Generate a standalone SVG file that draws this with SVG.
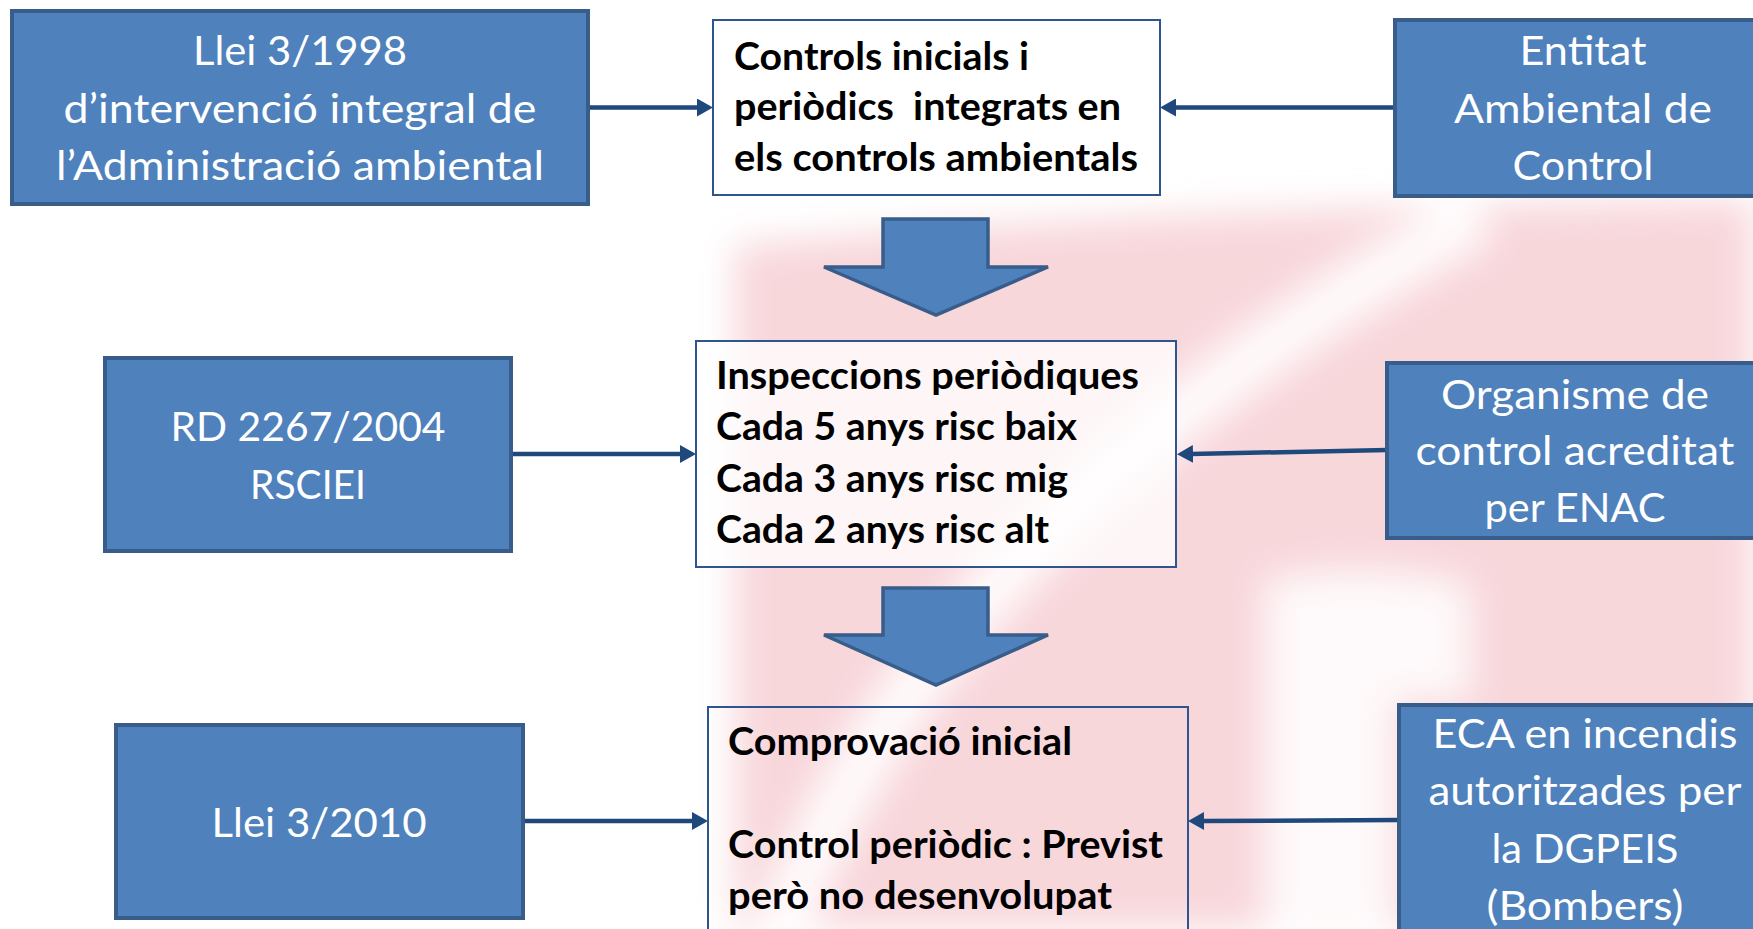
<svg xmlns="http://www.w3.org/2000/svg" width="1753" height="929" viewBox="0 0 1753 929">
<defs>
<style>
.bg{fill:#ffffff}
.blue{fill:#4f81bd;stroke:#385d8a;stroke-width:4}
.cbox{stroke:#2f5590;stroke-width:2}
.btxt{font-family:Lato,"Liberation Sans",sans-serif;font-size:41px;fill:#ffffff;text-anchor:middle}
.ctxt{font-family:Lato,"Liberation Sans",sans-serif;font-size:39px;font-weight:bold;fill:#000000}
.conn{stroke:#1f497d;stroke-width:4.5;fill:none;marker-end:url(#ah)}
.big{fill:#4f81bd;stroke:#385d8a;stroke-width:3.5;stroke-linejoin:miter}
</style>
<marker id="ah" viewBox="0 0 16 18" markerWidth="16" markerHeight="18" markerUnits="userSpaceOnUse" refX="2" refY="9" orient="auto">
<path d="M0,0 L16,9 L0,18 Z" fill="#1f497d"/>
</marker>
<filter id="soft" x="-10%" y="-10%" width="120%" height="120%">
<feGaussianBlur stdDeviation="18"/>
</filter>
</defs>
<rect class="bg" x="0" y="0" width="1753" height="929"/>
<g id="watermark" filter="url(#soft)">
<path d="M735,245 Q1200,205 1753,200 L1753,929 L735,929 Z" fill="#f8d7db"/>
<path d="M775,945 Q930,520 1480,215" stroke="#ffffff" stroke-width="55" fill="none" opacity="0.9"/>
<path d="M1265,580 Q1370,560 1470,585 L1470,700 L1395,700 L1395,935 L1265,935 Z" fill="#ffffff" opacity="0.85"/>
</g>
<g id="connectors">
<line class="conn" x1="588" y1="107.5" x2="699" y2="107.5"/>
<line class="conn" x1="1395" y1="107.5" x2="1174" y2="107.5"/>
<line class="conn" x1="511" y1="454" x2="682" y2="454"/>
<line class="conn" x1="1387" y1="450" x2="1191" y2="454"/>
<line class="conn" x1="523" y1="821" x2="694" y2="821"/>
<line class="conn" x1="1399" y1="820" x2="1202" y2="821"/>
<polygon id="flow1" class="big" points="883,219 988,219 988,267 1048,267 936,315 824,267 883,267"/>
<polygon id="flow2" class="big" points="883,588 988,588 988,635 1048,635 936,685 824,635 883,635"/>
</g>
<g id="n-llei1998">
<rect class="blue" x="12" y="11" width="576" height="193"/>
<text class="btxt" x="300" y="65" textLength="214" lengthAdjust="spacingAndGlyphs">Llei 3/1998</text>
<text class="btxt" x="300" y="123" textLength="473" lengthAdjust="spacingAndGlyphs">d’intervenció integral de</text>
<text class="btxt" x="300" y="180" textLength="488" lengthAdjust="spacingAndGlyphs">l’Administració ambiental</text>
</g>
<g id="n-controls">
<rect class="cbox" x="713" y="20" width="447" height="175" fill="#ffffff"/>
<text class="ctxt" x="734" y="70" textLength="295" lengthAdjust="spacingAndGlyphs">Controls inicials i</text>
<text class="ctxt" x="734" y="120" textLength="387" lengthAdjust="spacingAndGlyphs" xml:space="preserve">periòdics  integrats en</text>
<text class="ctxt" x="734" y="171" textLength="404" lengthAdjust="spacingAndGlyphs">els controls ambientals</text>
</g>
<g id="n-entitat">
<rect class="blue" x="1395" y="20" width="376" height="176"/>
<text class="btxt" x="1583" y="65" textLength="127" lengthAdjust="spacingAndGlyphs">Entitat</text>
<text class="btxt" x="1583" y="123" textLength="258" lengthAdjust="spacingAndGlyphs">Ambiental de</text>
<text class="btxt" x="1583" y="180" textLength="141" lengthAdjust="spacingAndGlyphs">Control</text>
</g>
<g id="n-rd2267">
<rect class="blue" x="105" y="358" width="406" height="193"/>
<text class="btxt" x="308" y="441" textLength="275" lengthAdjust="spacingAndGlyphs">RD 2267/2004</text>
<text class="btxt" x="308" y="499" textLength="116" lengthAdjust="spacingAndGlyphs">RSCIEI</text>
</g>
<g id="n-inspeccions">
<rect class="cbox" x="696" y="341" width="480" height="226" fill="#ffffff" fill-opacity="0.75"/>
<text class="ctxt" x="716" y="389" textLength="423" lengthAdjust="spacingAndGlyphs">Inspeccions periòdiques</text>
<text class="ctxt" x="716" y="440" textLength="361" lengthAdjust="spacingAndGlyphs">Cada 5 anys risc baix</text>
<text class="ctxt" x="716" y="492" textLength="352" lengthAdjust="spacingAndGlyphs">Cada 3 anys risc mig</text>
<text class="ctxt" x="716" y="543" textLength="333" lengthAdjust="spacingAndGlyphs">Cada 2 anys risc alt</text>
</g>
<g id="n-organisme">
<rect class="blue" x="1387" y="363" width="384" height="175"/>
<text class="btxt" x="1575" y="409" textLength="268" lengthAdjust="spacingAndGlyphs">Organisme de</text>
<text class="btxt" x="1575" y="465" textLength="319" lengthAdjust="spacingAndGlyphs">control acreditat</text>
<text class="btxt" x="1575" y="522" textLength="181" lengthAdjust="spacingAndGlyphs">per ENAC</text>
</g>
<g id="n-llei2010">
<rect class="blue" x="116" y="725" width="407" height="193"/>
<text class="btxt" x="319" y="837" textLength="215" lengthAdjust="spacingAndGlyphs">Llei 3/2010</text>
</g>
<g id="n-comprovacio">
<rect class="cbox" x="708" y="707" width="480" height="240" fill="none"/>
<text class="ctxt" x="728" y="755" textLength="344" lengthAdjust="spacingAndGlyphs">Comprovació inicial</text>
<text class="ctxt" x="728" y="858" textLength="435" lengthAdjust="spacingAndGlyphs">Control periòdic : Previst</text>
<text class="ctxt" x="728" y="909" textLength="384" lengthAdjust="spacingAndGlyphs">però no desenvolupat</text>
</g>
<g id="n-eca">
<rect class="blue" x="1399" y="705" width="372" height="240"/>
<text class="btxt" x="1585" y="748" textLength="305" lengthAdjust="spacingAndGlyphs">ECA en incendis</text>
<text class="btxt" x="1585" y="805" textLength="313" lengthAdjust="spacingAndGlyphs">autoritzades per</text>
<text class="btxt" x="1585" y="863" textLength="187" lengthAdjust="spacingAndGlyphs">la DGPEIS</text>
<text class="btxt" x="1585" y="920" textLength="197" lengthAdjust="spacingAndGlyphs">(Bombers)</text>
</g>
</svg>
